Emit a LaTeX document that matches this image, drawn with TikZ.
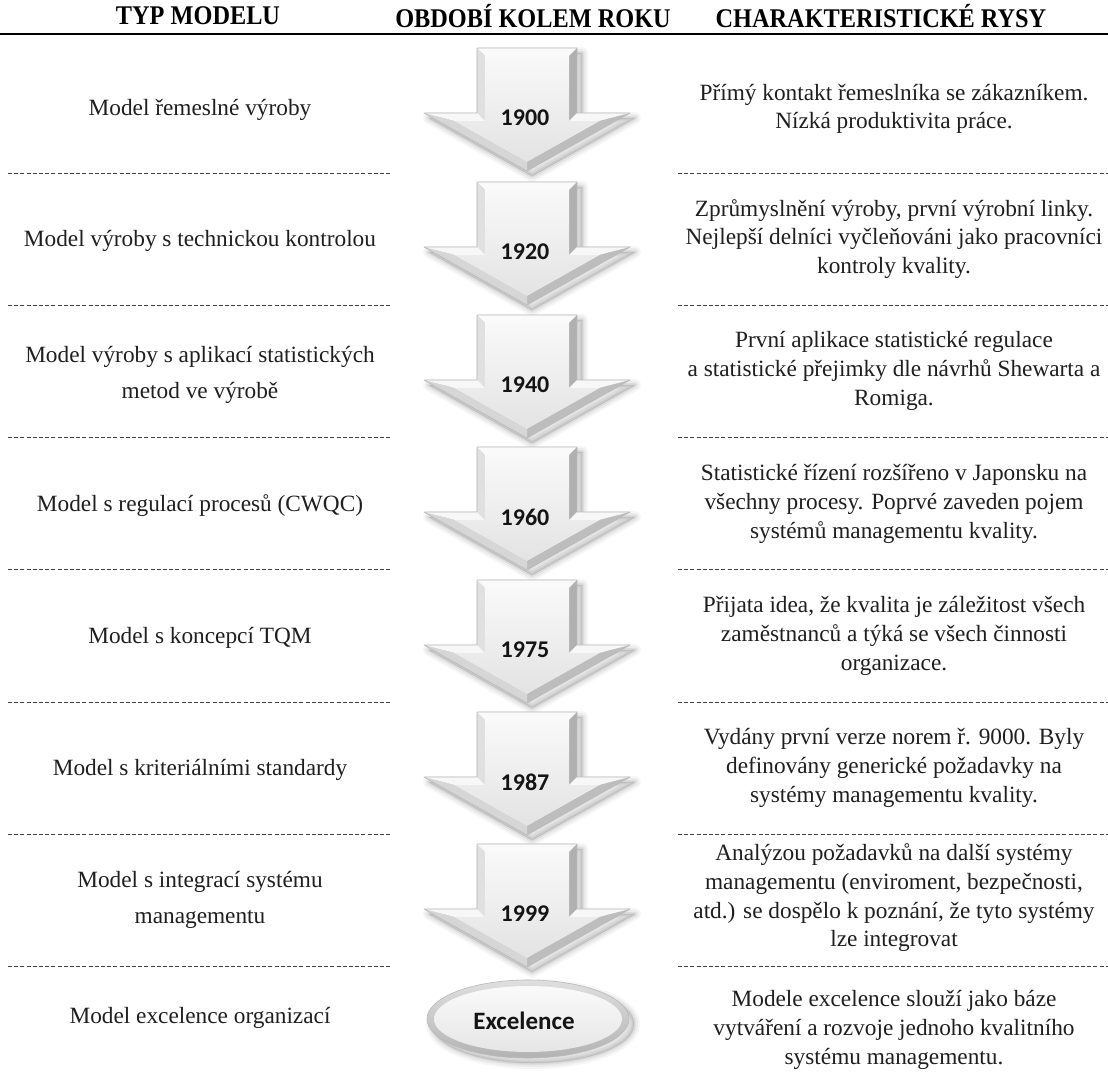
\documentclass[tikz,border=0pt]{standalone}
\usepackage{fontspec}
\setmainfont{Liberation Serif}
\newfontfamily\headfont{Liberation Serif}[FakeStretch=0.9]
\newfontfamily\labelfont{Carlito}
\usetikzlibrary{calc}

\tikzset{
  x=1pt, y=-1pt,
  sep/.style={line width=1pt, draw=black!75, dash pattern=on 4pt off 2.2pt},
  headline/.style={line width=2.6pt, draw=black},
  coltext/.style={align=center, font=\fontsize{23.3}{28.7}\selectfont, text=black!88, inner sep=0pt},
  lefttext/.style={coltext, font=\fontsize{23.3}{36.5}\selectfont},
  headtext/.style={font=\headfont\bfseries\fontsize{27}{29}\selectfont, inner sep=0pt},
  yearlabel/.style={font=\labelfont\bfseries\fontsize{24}{24}\selectfont, text=black!92, inner sep=0pt},
  pics/downarrow/.style={code={
    % soft drop shadow
    \foreach \w/\o in {12/0.035,8/0.045,4/0.06,1/0.08}{
      \draw[line width=\w pt, black, opacity=\o, line join=round, shift={(5,5)}]
        (-50,0)--(50,0)--(50,65)--(103,65)--(0,123)--(-103,65)--(-50,65)--cycle;
    }
    \fill[black, opacity=0.08, shift={(5,5)}]
        (-50,0)--(50,0)--(50,65)--(103,65)--(0,123)--(-103,65)--(-50,65)--cycle;
    % bevel facets
    \fill[gray!4]  (-50,0)--(50,0)--(42,8)--(-42,8)--cycle;
    \fill[gray!24] (-50,65)--(-50,0)--(-42,8)--(-42,73)--cycle;
    \fill[gray!62] (50,0)--(50,65)--(42,73)--(42,8)--cycle;
    \fill[gray!6]  (50,65)--(103,65)--(72.5,73)--(42,73)--cycle;
    \fill[gray!6]  (-103,65)--(-50,65)--(-42,73)--(-72.5,73)--cycle;
    \fill[gray!52] (103,65)--(0,123)--(0,113.8)--(72.5,73)--cycle;
    \fill[gray!32] (0,123)--(-103,65)--(-72.5,73)--(0,113.8)--cycle;
    % front face
    \shade[top color=gray!5, bottom color=gray!22]
      (-42,8)--(42,8)--(42,73)--(72.5,73)--(0,113.8)--(-72.5,73)--(-42,73)--cycle;
    \draw[gray!55, line width=0.6pt, line join=round]
      (-50,0)--(50,0)--(50,65)--(103,65)--(0,123)--(-103,65)--(-50,65)--cycle;
  }},
}

\begin{document}
\begin{tikzpicture}
\useasboundingbox (0,0) rectangle (1108,1079);
\fill[white] (0,0) rectangle (1108,1079);

% column headings and rule
\node[headtext] (h1) at (198,16) {TYP MODELU};
\node[headtext] (h2) at (533,16) {OBDOBÍ KOLEM ROKU};
\node[headtext] (h3) at (881,16) {CHARAKTERISTICKÉ RYSY};
\coordinate (hl) at (0,34);
\coordinate (hr) at (1108,34);
\draw[headline] (hl) -- (hr);

% row separators
\foreach \y [count=\i] in {173,305.3,437.6,569.9,702.2,834.5,966.8}{
  \coordinate (sl\i a) at (8,\y);
  \coordinate (sl\i b) at (392,\y);
  \coordinate (sr\i a) at (678,\y);
  \coordinate (sr\i b) at (1108,\y);
  \draw[sep] (sl\i a) -- (sl\i b);
  \draw[sep] (sr\i a) -- (sr\i b);
}

% arrows with years
\foreach \t/\yr [count=\i] in {48/1900,182/1920,315/1940,447/1960,580/1975,712/1987,844/1999}{
  \pic at (527,\t) {downarrow};
  \node[yearlabel] (y\i) at (525,\t+70) {\yr};
}

% final stage
\foreach \w/\o in {12/0.035,8/0.045,4/0.06,1/0.08}{
  \draw[line width=\w pt, black, opacity=\o, shift={(5,5)}] (528,1019) ellipse [x radius=101, y radius=39];
}
\fill[black, opacity=0.08, shift={(5,5)}] (528,1019) ellipse [x radius=101, y radius=39];
\shade[top color=gray!25, bottom color=gray!60] (528,1019) ellipse [x radius=101, y radius=39];
\shade[top color=gray!4, bottom color=gray!20] (528,1019) ellipse [x radius=94, y radius=33];
\draw[gray!55, line width=0.6pt] (528,1019) ellipse [x radius=101, y radius=39];
\node[yearlabel, font=\labelfont\bfseries\fontsize{25}{25}\selectfont] (exc) at (524,1021) {Excelence};

% model types
\node[lefttext] (l1) at (200,110) {Model řemeslné výroby};
\node[lefttext] (l2) at (200,241) {Model výroby s technickou kontrolou};
\node[lefttext] (l3) at (200,375) {Model výroby s aplikací statistických\\metod ve výrobě};
\node[lefttext] (l4) at (200,506) {Model s regulací procesů (CWQC)};
\node[lefttext] (l5) at (200,638) {Model s koncepcí TQM};
\node[lefttext] (l6) at (200,770) {Model s kriteriálními standardy};
\node[lefttext] (l7) at (200,900) {Model s integrací systému\\managementu};
\node[lefttext] (l8) at (200,1018) {Model excelence organizací};

% characteristics
\node[coltext] (r1) at (894,109) {Přímý kontakt řemeslníka se zákazníkem.\\Nízká produktivita práce.};
\node[coltext] (r2) at (894,239) {Zprůmyslnění výroby, první výrobní linky.\\Nejlepší delníci vyčleňováni jako pracovníci\\kontroly kvality.};
\node[coltext] (r3) at (894,371) {První aplikace statistické regulace\\a statistické přejimky dle návrhů Shewarta a\\Romiga.};
\node[coltext] (r4) at (894,504) {Statistické řízení rozšířeno v Japonsku na\\všechny procesy. Poprvé zaveden pojem\\systémů managementu kvality.};
\node[coltext] (r5) at (894,636) {Přijata idea, že kvalita je záležitost všech\\zaměstnanců a týká se všech činnosti\\organizace.};
\node[coltext] (r6) at (894,768) {Vydány první verze norem ř. 9000. Byly\\definovány generické požadavky na\\systémy managementu kvality.};
\node[coltext] (r7) at (894,898) {Analýzou požadavků na další systémy\\managementu (enviroment, bezpečnosti,\\atd.) se dospělo k poznání, že tyto systémy\\lze integrovat};
\node[coltext] (r8) at (894,1030) {Modele excelence slouží jako báze\\vytváření a rozvoje jednoho kvalitního\\systému managementu.};
\end{tikzpicture}
\end{document}
